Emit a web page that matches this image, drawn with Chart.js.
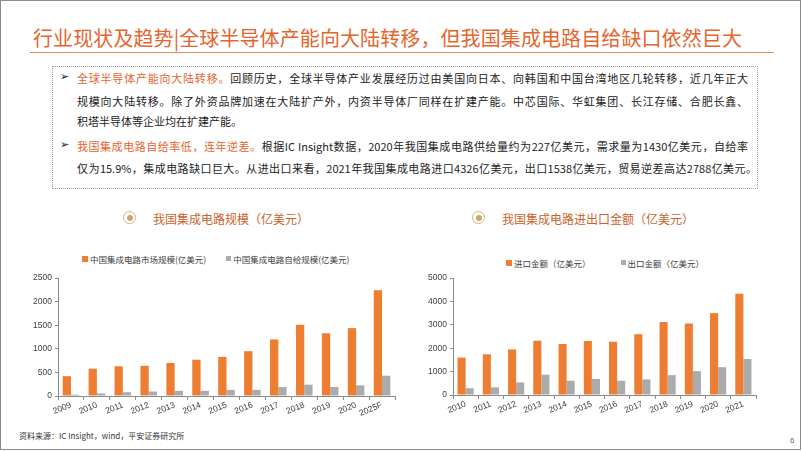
<!DOCTYPE html>
<html>
<head>
<meta charset="utf-8">
<script src="https://cdn.jsdelivr.net/npm/chart.js"></script>
<style>
  html, body { margin: 0; padding: 0; background: #fff; }
  body { width: 802px; height: 451px; position: relative; overflow: hidden;
         font-family: "Noto Sans CJK SC", "Liberation Sans", sans-serif; }
  .frame { position: absolute; left: 0; top: 0; width: 799px; height: 448px; border: 1px solid #8c8c8c; }
  .title { position: absolute; left: 33px; top: 23px; font-size: 20px; color: #E4652D; white-space: nowrap; letter-spacing: 0.1px; }
  .rule { position: absolute; left: 30px; top: 52px; width: 744px; height: 1px; background: #E98A5A; }
  .box { position: absolute; left: 52px; top: 66px; width: 704px; height: 121px; border: 1px dotted #9a9a9a; }
  .ln { position: absolute; left: 77px; font-size: 11px; color: #222; line-height: 14px; width: 671px;
        text-align: justify; text-align-last: justify; white-space: nowrap; }
  .ln.short { text-align-last: left; }
  .hl { color: #E4652D; }
  .arrow { position: absolute; left: 60px; font-size: 11px; color: #111; font-family: "DejaVu Sans"; }
  .ctitle { position: absolute; top: 210px; font-size: 12px; color: #C8622C; white-space: nowrap; }
  .icon { position: absolute; top: 211px; width: 11px; height: 11px; border: 1.5px solid #D5B483; border-radius: 50%; }
  .icon::after { content: ""; position: absolute; left: 2.5px; top: 2.5px; width: 6px; height: 6px; border-radius: 50%; background: #C9A66E; }
  .legend { position: absolute; font-size: 8.5px; color: #404040; white-space: nowrap; }
  .legend span { display: inline-block; vertical-align: middle; }
  .sw { margin-right: 2px; }
  canvas { position: absolute; }
  .src { position: absolute; left: 19px; top: 430px; font-size: 8px; color: #333; }
  .page { position: absolute; left: 790px; top: 436px; font-size: 8px; color: #666; font-family: "Liberation Sans"; }
</style>
</head>
<body>
<div class="frame"></div>
<div class="title">行业现状及趋势|全球半导体产能向大陆转移，但我国集成电路自给缺口依然巨大</div>
<div class="rule"></div>

<div class="box"></div>
<div class="arrow" style="top:70px">➢</div>
<div class="ln" style="top:71px"><span class="hl">全球半导体产能向大陆转移。</span>回顾历史，全球半导体产业发展经历过由美国向日本、向韩国和中国台湾地区几轮转移，近几年正大</div>
<div class="ln" style="top:94px">规模向大陆转移。除了外资品牌加速在大陆扩产外，内资半导体厂同样在扩建产能。中芯国际、华虹集团、长江存储、合肥长鑫、</div>
<div class="ln short" style="top:114px">积塔半导体等企业均在扩建产能。</div>
<div class="arrow" style="top:138px">➢</div>
<div class="ln" style="top:139px"><span class="hl">我国集成电路自给率低，连年逆差。</span>根据IC Insight数据，2020年我国集成电路供给量约为227亿美元，需求量为1430亿美元，自给率</div>
<div class="ln" style="top:161px; width:680px">仅为15.9%，集成电路缺口巨大。从进出口来看，2021年我国集成电路进口4326亿美元，出口1538亿美元，贸易逆差高达2788亿美元。</div>

<div class="icon" style="left:123px"></div>
<div class="ctitle" style="left:153px">我国集成电路规模（亿美元）</div>
<div class="icon" style="left:472px"></div>
<div class="ctitle" style="left:502px">我国集成电路进出口金额（亿美元）</div>

<div class="legend" id="leg1" style="left:82px; top:251px"></div>
<div class="legend" id="leg2" style="left:506px; top:255px"></div>

<canvas id="chartSize" width="382" height="156" style="left:18px; top:270px"></canvas>
<canvas id="chartTrade" width="348" height="155" style="left:413px; top:270px"></canvas>

<div class="src">资料来源：IC Insight，wind，平安证券研究所</div>
<div class="page">6</div>

<script>
// colours
const ORANGE = '#ED7D31';
const GRAY = '#ABABAB';
const AXIS = '#8a8a8a';
const TXT = '#404040';

// 我国集成电路规模
const sizeYears = ['2009', '2010', '2011', '2012', '2013', '2014', '2015', '2016', '2017', '2018', '2019', '2020', '2025F'];
const marketSize = [420, 580, 630, 640, 700, 770, 830, 950, 1200, 1510, 1330, 1440, 2240];
const selfSupply = [30, 55, 80, 95, 110, 110, 130, 130, 190, 240, 190, 227, 430];
const sizeTicks = [0, 500, 1000, 1500, 2000, 2500];

// 我国集成电路进出口金额
const tradeYears = ['2010', '2011', '2012', '2013', '2014', '2015', '2016', '2017', '2018', '2019', '2020', '2021'];
const importAmt = [1600, 1740, 1950, 2320, 2180, 2310, 2280, 2600, 3120, 3060, 3500, 4326];
const exportAmt = [290, 330, 540, 870, 610, 690, 610, 670, 850, 1020, 1190, 1538];
const tradeTicks = [0, 500, 1000, 1500, 2000, 2500, 3000, 3500, 4000, 4500, 5000];

function legendHtml(el, names, gap) {
	var html = '';
	names.forEach(function (n, i) {
		var c = i == 0 ? ORANGE : GRAY;
		var sz = i == 0 ? 6 : 5;
		html += '<span class="sw" style="width:' + sz + 'px;height:' + sz + 'px;background:' + c + '"></span>'
			+ '<span style="margin-right:' + gap + 'px">' + n + '</span>';
	});
	document.getElementById(el).innerHTML = html;
}

function makeBars(id, labels, a, b, names, ticks) {
	const tickFont = { family: 'Liberation Sans', size: 8.5 };
	return new Chart(document.getElementById(id), {
		type: 'bar',
		data: {
			labels: labels,
			datasets: [
				{ label: names[0], data: a, backgroundColor: ORANGE, barPercentage: 1, categoryPercentage: 0.64 },
				{ label: names[1], data: b, backgroundColor: GRAY, barPercentage: 1, categoryPercentage: 0.64 }
			]
		},
		options: {
			responsive: false,
			animation: false,
			layout: { padding: { top: 8, right: 5 } },
			plugins: { legend: { display: false }, tooltip: { enabled: false } },
			scales: {
				x: {
					grid: { drawOnChartArea: false, tickLength: 4, color: AXIS },
					border: { color: AXIS },
					ticks: { autoSkip: false, minRotation: 22, maxRotation: 22, padding: 0, color: TXT, font: tickFont },
					afterFit: function (s) { s.height = 30; }
				},
				y: {
					min: ticks[0],
					max: ticks[ticks.length - 1],
					afterBuildTicks: function (s) { s.ticks = ticks.map(function (v) { return { value: v }; }); },
					grid: { drawOnChartArea: false, tickLength: 3, color: AXIS },
					border: { color: AXIS },
					ticks: { padding: 3, color: TXT, font: tickFont, callback: function (v) { return String(v); } },
					afterFit: function (s) { s.width = 40; }
				}
			}
		}
	});
}

const sizeNames = ['中国集成电路市场规模(亿美元)', '中国集成电路自给规模(亿美元)'];
const tradeNames = ['进口金额（亿美元）', '出口金额（亿美元）'];

legendHtml('leg1', sizeNames, 20);
legendHtml('leg2', tradeNames, 30);
var sizeChart = makeBars('chartSize', sizeYears, marketSize, selfSupply, sizeNames, sizeTicks);
var tradeChart = makeBars('chartTrade', tradeYears, importAmt, exportAmt, tradeNames, tradeTicks);
</script>
</body>
</html>
